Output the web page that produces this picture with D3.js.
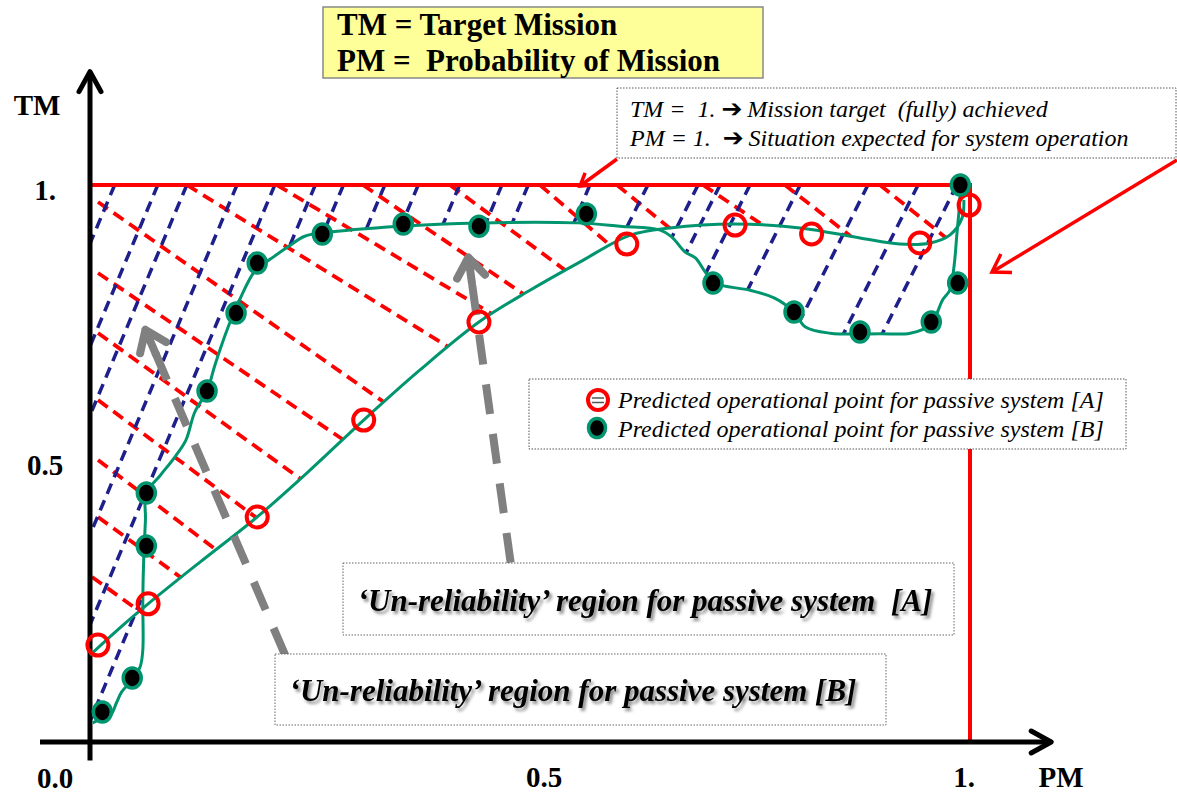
<!DOCTYPE html>
<html><head><meta charset="utf-8">
<script src="https://cdn.jsdelivr.net/npm/d3@7/dist/d3.min.js"></script>
<style>body{margin:0;background:#fff}svg{display:block}</style>
</head><body>
<svg id="c" width="1177" height="794"></svg>
<script>
// ---- data ----
const tickX = [{v:0.5,label:"0.5"},{v:1,label:"1."}];
const tickY = [{v:0.5,label:"0.5"},{v:1,label:"1."}];
const markA_pm = [0.009,0.066,0.190,0.311,0.442,0.610,0.733,0.820,0.943,0.999];
const markA_tm = [0.174,0.248,0.404,0.578,0.754,0.894,0.928,0.912,0.896,0.964];
const markB_pm = [0.014,0.048,0.064,0.064,0.133,0.166,0.190,0.264,0.356,0.442,0.564,0.708,0.800,0.875,0.956,0.986,0.989];
const markB_tm = [0.054,0.115,0.352,0.447,0.630,0.770,0.860,0.912,0.930,0.926,0.948,0.824,0.772,0.736,0.754,0.824,1.0];
const curveA_pm = [0,0.034,0.066,0.125,0.190,0.250,0.311,0.375,0.442,0.500,0.557,0.614,0.659,0.733,0.807,0.875,0.920,0.955,0.977,0.991,0.993];
const curveA_tm = [0.156,0.205,0.248,0.323,0.404,0.488,0.578,0.668,0.754,0.811,0.862,0.910,0.923,0.930,0.923,0.905,0.894,0.896,0.910,0.941,0.973];
const curveB_pm = [0.003,0.014,0.023,0.030,0.036,0.048,0.057,0.060,0.060,0.061,0.063,0.064,0.080,0.097,0.109,0.119,0.133,0.142,0.157,0.170,0.188,0.205,0.225,0.244,0.265,0.352,0.443,0.553,0.602,0.648,0.661,0.676,0.688,0.699,0.710,0.750,0.778,0.800,0.813,0.841,0.898,0.932,0.955,0.969,0.977,0.982,0.985,0.988,0.989];
const curveB_tm = [0.034,0.043,0.047,0.070,0.090,0.111,0.135,0.165,0.255,0.327,0.399,0.447,0.479,0.513,0.542,0.592,0.630,0.677,0.745,0.794,0.847,0.867,0.889,0.908,0.914,0.926,0.932,0.932,0.926,0.919,0.907,0.880,0.869,0.844,0.824,0.811,0.797,0.772,0.745,0.734,0.733,0.734,0.749,0.794,0.811,0.856,0.910,0.964,1.0];
// red hatch (region A): segment start/end in (PM, TM), cut off at curve A
const hatchA_pm0 = [0.0091,0.0091,0.0091,0.0091,0.0091,0.0091,0.0023,0.1102,0.2125,0.3102,0.4091,0.5114,0.5989,0.6966,0.7898,0.8977];
const hatchA_tm0 = [0.9695,0.8420,0.7343,0.6140,0.5063,0.4039,0.2962,1,1,1,1,1,1,1,1,1];
const hatchA_pm1 = [0.4636,0.4636,0.4636,0.3500,0.3500,0.2364,0.2295,0.5648,0.6670,0.6511,0.6364,0.6250,0.7125,0.8102,0.9034,1.0114];
const hatchA_tm1 = [0.4668,0.3537,0.2172,0.2136,0.0969,0.1418,0.0377,0.5548,0.5691,0.6338,0.7343,0.8456,0.8528,0.8797,0.8600,0.8564];
// blue hatch (region B): PM where each line meets TM=1 and TM=0, cut off at curve B
const hatchB_top = [0.028,0.077,0.110,0.167,0.210,0.256,0.288,0.335,0.373,0.420,0.468,0.498,0.568,0.634,0.691,0.716,0.750,0.807,0.884,0.941,0.985];
const hatchB_bot = [-0.238,-0.189,-0.156,-0.099,-0.056,-0.010,0.022,0.069,0.107,0.154,0.202,0.232,0.302,0.317,0.374,0.399,0.433,0.490,0.567,0.624,0.668];
const titleLines = ["TM = Target Mission","PM =  Probability of Mission"];
const noteLines = [["TM =  1. ","Mission target  (fully) achieved"],["PM = 1.  ","Situation expected for system operation"]];
const legendLabels = ["Predicted operational point for passive system [A]","Predicted operational point for passive system [B]"];
const regionLabels = ["\u2018Un-reliability\u2019 region for passive system  [A]","\u2018Un-reliability\u2019 region for passive system [B]"];

// ---- drawing ----
const svg = d3.select("#c");
const W=1177,H=794;
svg.append("rect").attr("width",W).attr("height",H).attr("fill","#fff");
const x = d3.scaleLinear().domain([0,1]).range([90,970]);
const y = d3.scaleLinear().domain([0,1]).range([742,185]);
const RED="#ff0000", GREEN="#00956e", NAVY="#1f1f8c", GRAY="#808080";
const SERIF="Liberation Serif";
const defs = svg.append("defs");
const f = defs.append("filter").attr("id","shadow").attr("x","-5%").attr("y","-20%").attr("width","110%").attr("height","150%");
f.append("feDropShadow").attr("dx",2.5).attr("dy",3).attr("stdDeviation",1.6).attr("flood-color","#000").attr("flood-opacity",0.45);

const zip=(a,b)=>a.map((v,i)=>[v,b[i]]);
const line = d3.line().x(d=>x(d[0])).y(d=>y(d[1])).curve(d3.curveCatmullRom.alpha(0.5));
const cA = zip(curveA_pm,curveA_tm), cB = zip(curveB_pm,curveB_tm);

// clip regions
defs.append("clipPath").attr("id","clipA").append("path")
  .attr("d", line(cA)+`L${x(cA[cA.length-1][0])},${y(1)}L${x(0)},${y(1)}Z`);
defs.append("clipPath").attr("id","clipB").append("path")
  .attr("d", line(cB)+`L${x(0)},${y(1)}L${x(0)},${y(cB[0][1])}Z`);

// hatches
const gA = svg.append("g").attr("clip-path","url(#clipA)");
gA.selectAll("line").data(hatchA_pm0.map((v,i)=>i)).join("line")
  .attr("x1",i=>x(hatchA_pm0[i])).attr("y1",i=>y(hatchA_tm0[i]))
  .attr("x2",i=>x(hatchA_pm1[i])).attr("y2",i=>y(hatchA_tm1[i]))
  .attr("stroke",RED).attr("stroke-width",3.8).attr("stroke-dasharray","12,7");
const gB = svg.append("g").attr("clip-path","url(#clipB)");
gB.selectAll("line").data(hatchB_top.map((v,i)=>i)).join("line")
  .attr("x1",i=>x(hatchB_top[i])).attr("y1",y(1))
  .attr("x2",i=>x(hatchB_bot[i])).attr("y2",y(0))
  .attr("stroke",NAVY).attr("stroke-width",3.5).attr("stroke-dasharray","11,7");

// red limit lines
svg.append("line").attr("x1",x(0)).attr("x2",x(1)).attr("y1",y(1)).attr("y2",y(1)).attr("stroke",RED).attr("stroke-width",4);
svg.append("line").attr("x1",x(1)).attr("x2",x(1)).attr("y1",y(1)-2).attr("y2",y(0)).attr("stroke",RED).attr("stroke-width",4);

// axes
svg.append("line").attr("x1",40).attr("x2",x(1.09)).attr("y1",y(0)).attr("y2",y(0)).attr("stroke","#000").attr("stroke-width",5);
svg.append("line").attr("x1",x(0)).attr("x2",x(0)).attr("y1",y(-0.033)).attr("y2",y(1.2)).attr("stroke","#000").attr("stroke-width",5);
svg.append("path").attr("d",`M${x(1.09)-18},${y(0)-11}L${x(1.09)+2},${y(0)}L${x(1.09)-18},${y(0)+11}`)
  .attr("fill","none").attr("stroke","#000").attr("stroke-width",5).attr("stroke-linecap","round").attr("stroke-linejoin","round");
svg.append("path").attr("d",`M${x(0)-11},${y(1.2)+18}L${x(0)},${y(1.2)-2}L${x(0)+11},${y(1.2)+18}`)
  .attr("fill","none").attr("stroke","#000").attr("stroke-width",5).attr("stroke-linecap","round").attr("stroke-linejoin","round");

// tick labels
const tl = svg.append("g").attr("font-family",SERIF).attr("font-weight","bold").attr("font-size",29).attr("fill","#000");
tl.append("text").attr("x",x(0)-35).attr("y",y(0)+46).attr("text-anchor","middle").text("0.0");
tl.selectAll(".tx").data(tickX).join("text").attr("x",d=>x(d.v)+(d.v===0.5?14:-6)).attr("y",y(0)+45).attr("text-anchor","middle").text(d=>d.label);
tl.selectAll(".ty").data(tickY).join("text").attr("x",d=>x(0)-45).attr("y",d=>y(d.v)+(d.v===1?15:11)).attr("text-anchor","middle").text(d=>d.label);
tl.append("text").attr("x",1061).attr("y",y(0)+45).attr("text-anchor","middle").text("PM");
tl.append("text").attr("x",37).attr("y",115).attr("text-anchor","middle").text("TM");

// curves
svg.append("path").attr("d",line(cA)).attr("fill","none").attr("stroke",GREEN).attr("stroke-width",3);
svg.append("path").attr("d",line(cB)).attr("fill","none").attr("stroke",GREEN).attr("stroke-width",3);

// gray dashed arrows
function grayArrow(x1,y1,x2,y2){
  const g=svg.append("g");
  const ang=Math.atan2(y2-y1,x2-x1);
  g.append("line").attr("x1",x1).attr("y1",y1).attr("x2",x2-Math.cos(ang)*20).attr("y2",y2-Math.sin(ang)*20)
    .attr("stroke",GRAY).attr("stroke-width",8).attr("stroke-dasharray","30,20");
  const a1=ang+Math.PI*0.8, a2=ang-Math.PI*0.8, s=24;
  g.append("path").attr("d",`M${x2+Math.cos(a1)*s},${y2+Math.sin(a1)*s}L${x2},${y2}L${x2+Math.cos(a2)*s},${y2+Math.sin(a2)*s}M${x2},${y2}L${x2-Math.cos(ang)*26},${y2-Math.sin(ang)*26}`)
    .attr("fill","none").attr("stroke",GRAY).attr("stroke-width",8).attr("stroke-linecap","round").attr("stroke-linejoin","round");
}
grayArrow(x(0.222),y(0.155),x(0.063),y(0.74));
grayArrow(x(0.478),y(0.322),x(0.43),y(0.87));

// markers
svg.selectAll(".mA").data(zip(markA_pm,markA_tm)).join("circle")
  .attr("cx",d=>x(d[0])).attr("cy",d=>y(d[1])).attr("r",10.5).attr("fill","none").attr("stroke",RED).attr("stroke-width",4);
svg.selectAll(".mB").data(zip(markB_pm,markB_tm)).join("ellipse")
  .attr("cx",d=>x(d[0])).attr("cy",d=>y(d[1])).attr("rx",9).attr("ry",10).attr("fill","#000").attr("stroke",GREEN).attr("stroke-width",3.5);

// red pointer arrows
function redArrow(x1,y1,x2,y2,s){
  const ang=Math.atan2(y2-y1,x2-x1);
  svg.append("line").attr("x1",x1).attr("y1",y1).attr("x2",x2).attr("y2",y2).attr("stroke",RED).attr("stroke-width",3.5);
  const a1=ang+Math.PI*0.82, a2=ang-Math.PI*0.82;
  svg.append("path").attr("d",`M${x2+Math.cos(a1)*s},${y2+Math.sin(a1)*s}L${x2},${y2}L${x2+Math.cos(a2)*s},${y2+Math.sin(a2)*s}`)
    .attr("fill","none").attr("stroke",RED).attr("stroke-width",3.5).attr("stroke-linejoin","miter");
}
redArrow(617,159,580,186,14);
redArrow(1177,160,992,272,20);

// title box
svg.append("rect").attr("x",323).attr("y",7).attr("width",440).attr("height",71).attr("fill","#ffff99").attr("stroke","#888").attr("stroke-width",1.5);
svg.selectAll(".tt").data(titleLines).join("text").attr("x",337).attr("y",(d,i)=>35+i*36)
  .attr("font-family",SERIF).attr("font-weight","bold").attr("font-size",31).style("white-space","pre").text(d=>d);

// note box
svg.append("rect").attr("x",617).attr("y",88).attr("width",559).attr("height",70).attr("fill","#fff").attr("stroke","#555").attr("stroke-width",1).attr("stroke-dasharray","1.5,1.5");
noteLines.forEach((ln,i)=>{
  const t=svg.append("text").attr("x",630).attr("y",117+i*29).attr("font-family",SERIF).attr("font-style","italic").attr("font-size",24).style("white-space","pre");
  t.append("tspan").text(ln[0]);
  t.append("tspan").attr("font-family","DejaVu Sans").attr("font-style","normal").attr("font-weight","bold").attr("font-size",25).text("\u2794");
  t.append("tspan").text("\u2009"+ln[1]);
});

// legend
svg.append("rect").attr("x",529).attr("y",379).attr("width",597).attr("height",70).attr("fill","#fff").attr("stroke","#555").attr("stroke-width",1).attr("stroke-dasharray","1.5,1.5");
svg.append("circle").attr("cx",598).attr("cy",400).attr("r",10).attr("fill","#fff").attr("stroke",RED).attr("stroke-width",4);
svg.append("line").attr("x1",592).attr("x2",604).attr("y1",398).attr("y2",398).attr("stroke","#555").attr("stroke-width",1.5);
svg.append("line").attr("x1",592).attr("x2",604).attr("y1",402.5).attr("y2",402.5).attr("stroke","#555").attr("stroke-width",1.5);
svg.append("ellipse").attr("cx",597).attr("cy",428).attr("rx",8.5).attr("ry",9.5).attr("fill","#000").attr("stroke",GREEN).attr("stroke-width",3.5);
svg.selectAll(".lg").data(legendLabels).join("text").attr("x",618).attr("y",(d,i)=>408+i*29)
  .attr("font-family",SERIF).attr("font-style","italic").attr("font-size",24).text(d=>d);

// region boxes
const boxes=[{x:343,y:563,w:611,h:72,tx:645,ty:611},{x:275,y:654,w:611,h:71,tx:573,ty:701}];
boxes.forEach((b,i)=>{
  svg.append("rect").attr("x",b.x).attr("y",b.y).attr("width",b.w).attr("height",b.h).attr("fill","#fff").attr("stroke","#666").attr("stroke-width",1).attr("stroke-dasharray","1.5,1.5");
  svg.append("text").attr("x",b.tx).attr("y",b.ty).attr("text-anchor","middle").attr("font-family",SERIF).attr("font-style","italic").attr("font-weight","bold")
    .attr("font-size",31).attr("filter","url(#shadow)").style("white-space","pre").text(regionLabels[i]);
});
</script>
</body></html>
